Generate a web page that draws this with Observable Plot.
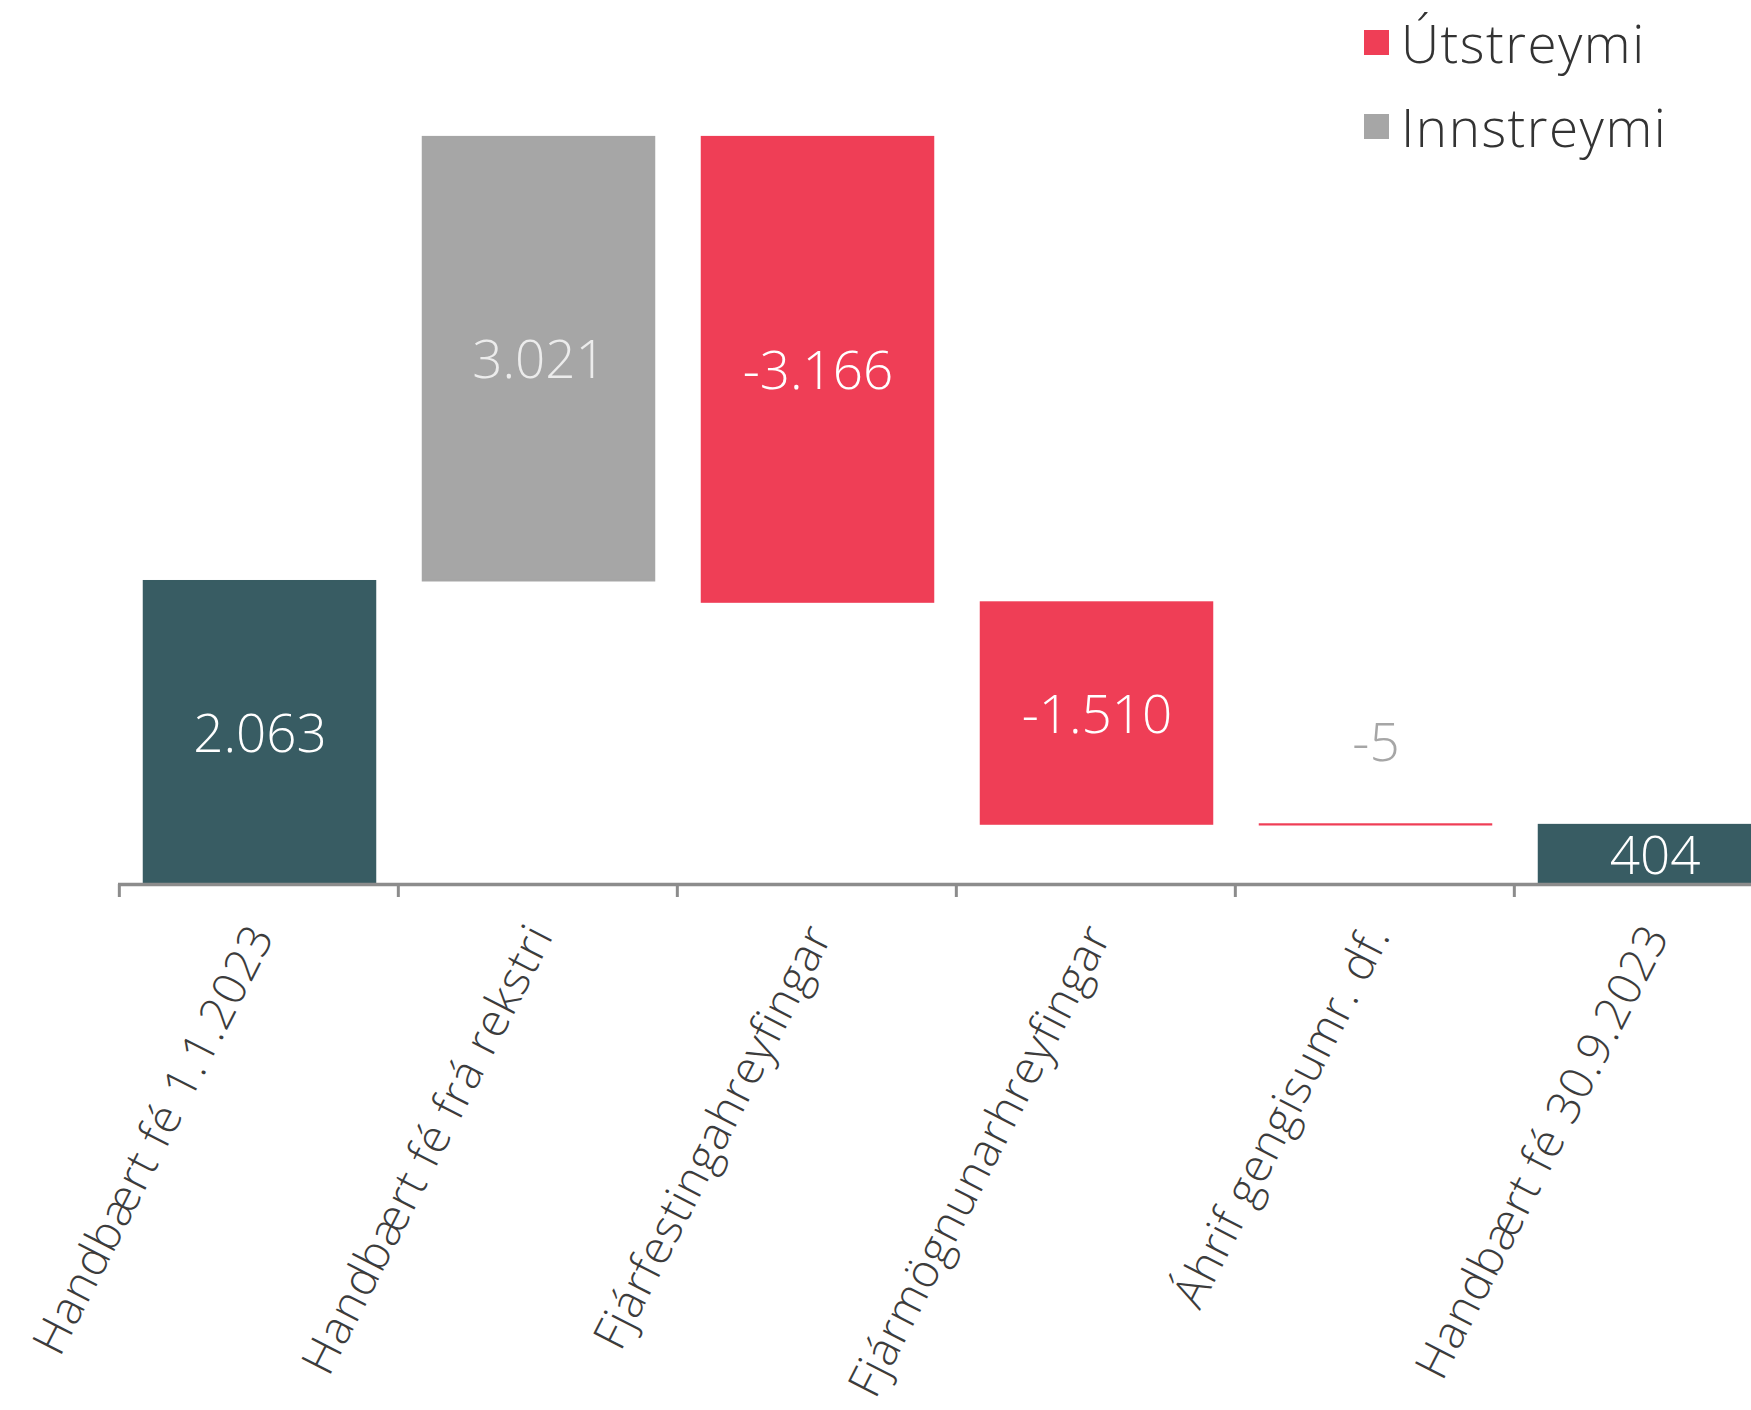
<!DOCTYPE html>
<html>
<head>
<meta charset="utf-8">
<script src="https://cdn.jsdelivr.net/npm/d3@7"></script>
<script src="https://cdn.jsdelivr.net/npm/@observablehq/plot@0.6"></script>
<style>
  html, body { margin: 0; padding: 0; background: #ffffff; }
  #wrap { position: relative; width: 1751px; height: 1410px; overflow: hidden; }
  #legend { position: absolute; left: 1364px; top: 0px; font-family: "Open Sans", sans-serif; font-weight: 300; font-size: 53px; letter-spacing: 1.5px; color: #333333; }
  #legend .item { display: flex; align-items: center; height: 84px; }
  #legend .sw { width: 25px; height: 25px; margin-right: 12px; flex: none; }
  svg { overflow: hidden; }
  .ticklab text { letter-spacing: 1px; }
</style>
</head>
<body>
<div id="wrap"><div id="chart"></div><div id="legend"></div></div>
<script>
// ---- data ----
const categories = [
  "Handbært fé 1.1.2023",
  "Handbært fé frá rekstri",
  "Fjárfestingahreyfingar",
  "Fjármögnunarhreyfingar",
  "Áhrif gengisumr. df.",
  "Handbært fé 30.9.2023"
];
const values = [2063, 3021, -3166, -1510, -5, 404];
const kinds = ["total", "flow", "flow", "flow", "flow", "total"];
const legendLabels = ["Útstreymi", "Innstreymi"];
const legendColors = ["#ef3e56", "#a6a6a6"];
const totalColor = "#385c63";

// ---- build waterfall table ----
let running = 0;
const rows = categories.map((c, i) => {
  const v = values[i];
  let y1, y2, fill, labelFill;
  if (kinds[i] === "total") {
    y1 = 0; y2 = v; running = v; fill = totalColor; labelFill = "#ffffff";
  } else {
    y1 = running; y2 = running + v; running = y2;
    fill = v >= 0 ? legendColors[1] : legendColors[0];
    labelFill = v >= 0 ? "#ececec" : "#ffffff";
  }
  return {cat: c, value: v, y1, y2, fill, labelFill, small: Math.abs(v) < 100};
});

const locale = d3.formatLocale({decimal: ",", thousands: ".", grouping: [3], currency: ["", ""], minus: "-"});
const fmt = locale.format(",d");

const W = 1751, H = 1410;
const xStart = 118, xEnd = 1794;
const step = (xEnd - xStart) / categories.length;
const font = "'Open Sans', sans-serif";

const chart = Plot.plot({
  width: W,
  height: H,
  marginTop: 2,
  marginBottom: 526,
  marginLeft: xStart,
  marginRight: 0,
  style: {fontFamily: font, background: "#ffffff", overflow: "hidden"},
  x: {domain: categories, range: [xStart, xEnd], padding: 0, axis: null, label: null},
  y: {domain: [0, 6000], axis: null},
  marks: [
    Plot.rectY(rows, {
      x: "cat", y1: "y1", y2: "y2", fill: "fill", stroke: "fill", strokeWidth: 1.5,
      insetLeft: 24.5, insetRight: 22.5
    }),
    Plot.ruleY([0], {stroke: "#8c8c8c", strokeWidth: 3.5}),
    Plot.axisX({tickSize: 13, stroke: "#8c8c8c", strokeWidth: 3, dx: -step / 2, text: null, label: null}),
    Plot.text(categories, {
      x: d => d, frameAnchor: "bottom", dy: 44, dx: 3, rotate: -63,
      textAnchor: "end", lineAnchor: "middle",
      fontSize: 46, fontWeight: 300, fill: "#3c3c3c", className: "ticklab"
    }),
    Plot.text(rows.filter(d => !d.small), {
      x: "cat", y: d => (d.y1 + d.y2) / 2, text: d => fmt(d.value),
      fill: "labelFill", fontSize: 53, fontWeight: 300, dx: 1, dy: 2, lineAnchor: "middle"
    }),
    Plot.text(rows.filter(d => d.small), {
      x: "cat", y: d => Math.max(d.y1, d.y2), text: d => fmt(d.value),
      fill: "#a6a6a6", fontSize: 53, fontWeight: 300, dx: 1, dy: -80, lineAnchor: "middle"
    })
  ]
});
document.getElementById("chart").appendChild(chart);

// ---- legend ----
const legend = document.getElementById("legend");
legendLabels.forEach((lab, i) => {
  const item = document.createElement("div");
  item.className = "item";
  const sw = document.createElement("div");
  sw.className = "sw";
  sw.style.background = legendColors[i];
  const t = document.createElement("span");
  t.textContent = lab;
  item.appendChild(sw);
  item.appendChild(t);
  legend.appendChild(item);
});
</script>
</body>
</html>
